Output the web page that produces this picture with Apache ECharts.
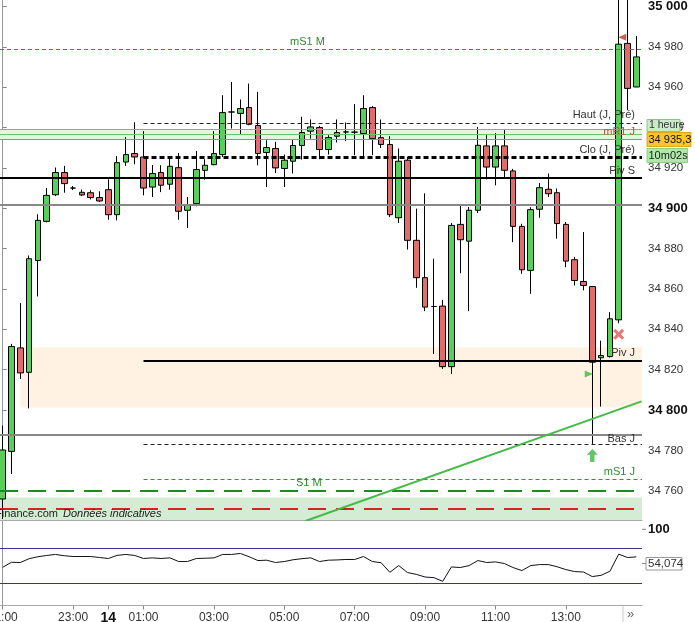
<!DOCTYPE html>
<html>
<head>
<meta charset="utf-8">
<script src="https://cdn.jsdelivr.net/npm/echarts@6/dist/echarts.min.js"></script>
<style>
html, body { margin: 0; padding: 0; background: #fff; }
#main { width: 695px; height: 622px; }
</style>
</head>
<body>
<div id="main"></div>
<script>
// bougies 15 min, du 13 (21:00) au 14 (15:00)
var opens  = [34755.9,34779.5,34830.8,34818.7,34874.1,34893.5,34906.7,34917.7,34910,34907.9,34907.7,34905.3,34909.2,34896.8,34922.9,34927.1,34925.4,34910.5,34917.7,34911.9,34920.1,34899,34902.3,34918.8,34921.6,34926.6,34947.7,34947,34949.9,34941,34927.6,34929.6,34919.7,34923.3,34931.1,34938.2,34940,34929.1,34935.7,34937.8,34937.7,34937,34949.9,34935,34931.6,34895.3,34923.8,34884.1,34865.6,34851.3,34851.5,34821.5,34892,34883.7,34899,34930.9,34920.4,34930.9,34918.5,34891,34869.2,34899.5,34909.4,34907.7,34892,34874.5,34863.7,34861.2,34825.9,34826.5,34844.7,34981.7,34960.1];
var closes = [34780.2,34831.5,34818.4,34875,34894,34906.4,34917.7,34912.2,34910,34906.6,34905.3,34903.6,34896.8,34922.6,34926.6,34925.4,34910,34917.2,34911.4,34920.8,34898.5,34901.8,34919.2,34921.3,34927.1,34947.4,34947.7,34949.4,34941.6,34927.1,34930.1,34920,34923.8,34931.1,34937.5,34940.3,34929.1,34935,34937.5,34937.8,34937.7,34949.4,34934.5,34931.6,34896.8,34923.3,34884.1,34865.6,34851,34851.3,34821.5,34891.5,34884.4,34899,34931.2,34920.4,34930.9,34918.8,34891,34869.5,34899.3,34910.2,34907.2,34892.4,34873.8,34864.2,34861.7,34823.7,34827,34845.2,34981.3,34959.4,34975];
var lows   = [34746,34768.3,34815.4,34800.8,34856.3,34893,34906,34907.7,34909,34906,34904.4,34903.1,34894.3,34894,34921,34921.8,34906.4,34905.6,34908,34909.2,34894.3,34890.2,34901,34914.2,34921.3,34925.4,34939.5,34936.7,34941.1,34921.3,34910.5,34917.5,34910.5,34917.2,34924.1,34934.5,34924.3,34926.6,34932.6,34933.3,34926.3,34924.6,34926.3,34929.9,34895.6,34892.7,34879.5,34860.6,34849,34827.8,34820.4,34817.9,34867.8,34849,34897.6,34914.3,34911.4,34915.5,34883.2,34867.5,34857.6,34895.3,34905.6,34884.9,34870.8,34861.7,34859.3,34783.2,34801.7,34826,34843,34948.6,34960];
var highs  = [34792.3,34832.8,34853,34876.6,34897,34910,34920.2,34921,34911,34909.2,34908.9,34908.4,34914.3,34925.8,34935.3,34942.6,34938.2,34921.4,34921.3,34925.9,34927.4,34905.6,34928.4,34924.3,34938.2,34956,34962.6,34953.9,34961.8,34957.7,34933.7,34932.9,34926.6,34934.2,34945.3,34944,34940.8,34936.2,34944,34942.5,34951.6,34956,34950.6,34944,34935.7,34929.6,34925.4,34899.8,34907.4,34875,34854.6,34892.7,34901.4,34900.6,34940.3,34936.2,34937.3,34938.7,34919.5,34892.3,34900.5,34912.5,34917.2,34909.8,34893.2,34875.8,34888.2,34861.5,34834.4,34848.5,35010,35010,34985.3];

// oscillateur (panneau du bas)
var osc = [48.3,53.9,53.6,57.9,60.1,61.5,62.6,61.2,60.3,60.3,60.3,59.2,58.1,61.6,62.6,61.5,58.1,58.8,58.1,58.8,54.7,54.7,58.1,58.4,58.8,62.6,62.6,63.7,60.1,55.8,56.2,53.6,54.7,56.7,57.9,58.8,54.7,56.2,56.5,57,57,60.3,54.7,53.4,42.7,50.2,42.4,40.4,37.4,36.7,32.6,48.7,48,50.2,55.8,53.6,54.3,52.5,48,44.6,50.2,51.3,51.3,48.9,45.7,43.5,43,37.9,39.3,43.8,62.9,59.2,59.9];
var oscLevels = [70, 30];

// axe des temps
var tickIdx = [0, 8, 12, 16, 24, 32, 40, 48, 56, 64];
var tickTxt = ['21:00', '23:00', '14', '01:00', '03:00', '05:00', '07:00', '09:00', '11:00', '13:00'];
var priceTicks = [34760, 34780, 34800, 34820, 34840, 34860, 34880, 34900, 34920, 34940, 34960, 34980, 35000];

// niveaux horizontaux
var levelNames  = ['mS1 M', 'Haut (J, Pré)', '', '', 'mR1 J', 'Clo (J, Pré)', 'Ouv J', 'Piv S', '', 'Piv J', 'Bas J', '', 'mS1 J', 'S1 M', ''];
var levelPrices = [34978.9, 34942.3, 34939, 34936.5, 34934, 34925.4, 34925.4, 34915, 34901.9, 34824.5, 34787.8, 34783.2, 34765.8, 34760, 34751.2];
var levelStart  = [null, 16, null, null, null, 16, 16, null, null, 16, null, 16, 16, null, null];
var levelKind   = ['gDashThin', 'kDashThin', 'gSolid', 'gSolid', 'rSolid', 'kDashThick', 'none', 'kSolid', 'gray', 'kSolid', 'gray', 'kDashThin', 'gDashThin', 'gDashThick', 'rDashThick'];

// zones
var bandLow   = [34801.3, 34934, 34740];
var bandHigh  = [34831.1, 34939, 34756.7];
var bandStart = [2, null, null];
var bandKind  = ['beige', 'vert', 'vert2'];

// oblique
var trendX = [34.4, 72.6];
var trendY = [34745, 34804.3];

// signaux
var sigX    = [70.4, 70, 66.6, 67];
var sigY    = [34984.8, 34837.5, 34817.9, 34777.5];
var sigKind = ['triLeft', 'cross', 'triRight', 'arrowUp'];

var X_MIN = -0.31, X_MAX = 72.65;
var FONT = '"Liberation Sans", Arial, sans-serif';

var lineStyles = {
    gDashThin:  { color: '#3a8f3a', width: 1, type: [4, 3] },
    kDashThin:  { color: '#222', width: 1, type: [4, 3] },
    gSolid:     { color: '#6cc26c', width: 1, type: 'solid' },
    rSolid:     { color: '#c97a68', width: 1, type: 'solid' },
    kDashThick: { color: '#000', width: 3, type: [5, 3] },
    kSolid:     { color: '#000', width: 2, type: 'solid' },
    gray:       { color: '#888', width: 2, type: 'solid' },
    gDashThick: { color: '#1f8a1f', width: 2, type: [18, 10] },
    rDashThick: { color: '#d52222', width: 2, type: [18, 10] },
    none:       { color: '#000', width: 1, opacity: 0 }
};
var bandColors = { beige: '#fff2e2', vert: '#e6f4e0', vert2: '#d4ebd4' };
var sigStyles = {
    triLeft:  { symbol: 'triangle', symbolSize: [7, 8], symbolRotate: 90, color: '#c0392b' },
    triRight: { symbol: 'triangle', symbolSize: [7, 8], symbolRotate: -90, color: '#3cb83c' },
    cross:    { symbol: 'path://M2,0 L5,3 L8,0 L10,2 L7,5 L10,8 L8,10 L5,7 L2,10 L0,8 L3,5 L0,2 Z', symbolSize: 11, symbolRotate: 0, color: '#e05555' },
    arrowUp:  { symbol: 'path://M5,0 L10,5 L7,5 L7,11 L3,11 L3,5 L0,5 Z', symbolSize: [11, 13], symbolRotate: 0, color: '#3cb83c' }
};

function fmtPrice(v) {
    var s = String(Math.round(v));
    return s.slice(0, 2) + ' ' + s.slice(2);
}

var candles = opens.map(function (o, i) {
    return [i, o, closes[i], lows[i], highs[i]];
});

var levelLines = levelPrices.map(function (p, i) {
    var kind = levelKind[i];
    var name = levelNames[i];
    var pos = 'insideEndTop';
    var dist = [7, 2];
    if (name === 'mS1 M') { pos = 'insideStartTop'; dist = [290, 2]; }
    if (name === 'S1 M') { pos = 'insideStartTop'; dist = [296, 2]; }
    if (name === 'Bas J') { pos = 'insideEndBottom'; dist = [7, -1]; }
    var col = kind.charAt(0) === 'g' && kind !== 'gray' ? '#2e8b2e' : (kind.charAt(0) === 'r' ? '#c0504d' : '#333');
    return [{
        coord: [levelStart[i] === null ? X_MIN : levelStart[i], p],
        lineStyle: lineStyles[kind],
        label: {
            show: name !== '',
            formatter: name,
            position: pos,
            distance: dist,
            color: col,
            fontSize: 11,
            fontFamily: FONT
        }
    }, {
        coord: [X_MAX, p]
    }];
});

var bandAreas = bandLow.map(function (lo, i) {
    return [{
        coord: [bandStart[i] === null ? X_MIN : bandStart[i], bandHigh[i]],
        itemStyle: { color: bandColors[bandKind[i]] }
    }, {
        coord: [X_MAX, lo]
    }];
});

var sigData = sigX.map(function (x, i) {
    var st = sigStyles[sigKind[i]];
    return {
        value: [x, sigY[i]],
        symbol: st.symbol,
        symbolSize: st.symbolSize,
        symbolRotate: st.symbolRotate,
        itemStyle: { color: st.color }
    };
});

var chart = echarts.init(document.getElementById('main'));

chart.setOption({
    animation: false,
    backgroundColor: '#fff',
    textStyle: { fontFamily: FONT },
    grid: [
        { left: 0, right: 53, top: 0, height: 520, outerBoundsMode: 'none' },
        { left: 0, right: 53, top: 520, height: 85.5, outerBoundsMode: 'none' }
    ],
    xAxis: [{
        type: 'value', gridIndex: 0, min: X_MIN, max: X_MAX,
        axisLine: { show: true, onZero: false, lineStyle: { color: '#aaa', width: 1 } },
        axisTick: { show: false }, axisLabel: { show: false }, splitLine: { show: false }
    }, {
        type: 'value', gridIndex: 1, min: X_MIN, max: X_MAX,
        axisLine: { show: true, onZero: false, lineStyle: { color: '#aaa', width: 1 } },
        axisTick: { show: true, customValues: tickIdx, length: 4, lineStyle: { color: '#888' } },
        axisLabel: {
            customValues: tickIdx,
            margin: 6,
            color: '#333',
            fontSize: 12,
            fontFamily: FONT,
            formatter: function (v) {
                var t = tickTxt[tickIdx.indexOf(Math.round(v))];
                return t === '14' ? '{b|14}' : t;
            },
            rich: { b: { fontWeight: 'bold', fontSize: 14, color: '#111', fontFamily: FONT } }
        },
        splitLine: { show: false }
    }],
    yAxis: [{
        type: 'value', gridIndex: 0, position: 'right', min: 34745.5, max: 35003.2,
        axisLine: { show: true, lineStyle: { color: '#999', width: 1 } },
        axisTick: { show: true, customValues: priceTicks, length: 4, lineStyle: { color: '#888' } },
        axisLabel: {
            customValues: priceTicks,
            margin: 6,
            color: '#333',
            fontSize: 11.5,
            fontFamily: FONT,
            formatter: function (v) {
                var t = fmtPrice(v);
                return v % 100 === 0 ? '{b|' + t + '}' : t;
            },
            rich: { b: { fontWeight: 'bold', fontSize: 13, color: '#111', fontFamily: FONT } }
        },
        splitLine: { show: false }
    }, {
        type: 'value', gridIndex: 1, position: 'right', min: 5.6, max: 101.1,
        axisLine: { show: true, lineStyle: { color: '#999', width: 1 } },
        axisTick: { show: false }, axisLabel: { show: false }, splitLine: { show: false }
    }],
    series: [{
        // zones et niveaux
        type: 'line', xAxisIndex: 0, yAxisIndex: 0, data: [], silent: true,
        markArea: { silent: true, z: 1, data: bandAreas },
        markLine: { silent: true, symbol: ['none', 'none'], z: 5, data: levelLines }
    }, {
        type: 'candlestick', xAxisIndex: 0, yAxisIndex: 0, z: 3,
        barWidth: 6, clip: true,
        dimensions: ['t', 'open', 'close', 'low', 'high'],
        encode: { x: 0, y: [1, 2, 3, 4] },
        itemStyle: {
            color: '#58cf58', color0: '#e06c6c',
            borderColor: '#000', borderColor0: '#000', borderColorDoji: '#000',
            borderWidth: 1
        },
        data: candles
    }, {
        type: 'line', xAxisIndex: 0, yAxisIndex: 0, z: 6, clip: true,
        showSymbol: false, silent: true,
        lineStyle: { color: '#44bb44', width: 2 },
        data: trendX.map(function (x, i) { return [x, trendY[i]]; })
    }, {
        type: 'scatter', xAxisIndex: 0, yAxisIndex: 0, z: 10, silent: true,
        data: sigData
    }, {
        type: 'line', xAxisIndex: 1, yAxisIndex: 1, z: 4, showSymbol: false, silent: true,
        lineStyle: { color: '#111', width: 1 },
        data: osc.map(function (v, i) { return [i, v]; }),
        markLine: {
            silent: true, symbol: ['none', 'none'], z: 3,
            label: { show: false },
            lineStyle: { color: '#3b3287', width: 1.2, type: 'solid' },
            data: oscLevels.map(function (v) { return { yAxis: v }; })
        }
    }],
    graphic: [
        { type: 'rect', z: 100, shape: { x: 647, y: 119.5, width: 33, height: 12 }, style: { fill: '#c8ecc6', stroke: '#8fc08f', lineWidth: 1 } },
        { type: 'text', z: 101, x: 649, y: 125.5, style: { text: '1 heure', fill: '#333', font: '10.5px ' + FONT, textVerticalAlign: 'middle' } },
        { type: 'rect', z: 100, shape: { x: 647, y: 132.5, width: 44, height: 14 }, style: { fill: '#f8c52e', stroke: '#e0a818', lineWidth: 1 } },
        { type: 'text', z: 101, x: 648.5, y: 139.8, style: { text: '34 935,3', fill: '#111', font: '11px ' + FONT, textVerticalAlign: 'middle' } },
        { type: 'rect', z: 100, shape: { x: 647, y: 148.5, width: 40.5, height: 14 }, style: { fill: '#b0e8aa', stroke: '#90cc8a', lineWidth: 1 } },
        { type: 'text', z: 101, x: 648.5, y: 155.8, style: { text: '10m02s', fill: '#222', font: '11px ' + FONT, textVerticalAlign: 'middle' } },
        { type: 'line', z: 100, shape: { x1: 642, y1: 529.3, x2: 646, y2: 529.3 }, style: { stroke: '#888', lineWidth: 1 } },
        { type: 'text', z: 101, x: 648, y: 529.5, style: { text: '100', fill: '#111', font: 'bold 13px ' + FONT, textVerticalAlign: 'middle' } },
        { type: 'line', z: 100, shape: { x1: 642, y1: 563.5, x2: 646, y2: 563.5 }, style: { stroke: '#888', lineWidth: 1 } },
        { type: 'rect', z: 100, shape: { x: 646, y: 557.5, width: 36, height: 12.5 }, style: { fill: '#fff', stroke: '#999', lineWidth: 1 } },
        { type: 'text', z: 101, x: 648, y: 564, style: { text: '54,074', fill: '#333', font: '11.5px ' + FONT, textVerticalAlign: 'middle' } },
        { type: 'text', z: 101, x: -5, y: 514, style: { text: 'Finance.com', fill: '#222', font: '11px ' + FONT, textVerticalAlign: 'middle' } },
        { type: 'text', z: 101, x: 63, y: 514, style: { text: 'Données indicatives', fill: '#222', font: 'italic 11px ' + FONT, textVerticalAlign: 'middle' } },
        { type: 'line', z: 100, shape: { x1: 623, y1: 606, x2: 623, y2: 622 }, style: { stroke: '#ccc', lineWidth: 1 } },
        { type: 'text', z: 101, x: 627, y: 614, style: { text: '»', fill: '#666', font: '13px ' + FONT, textVerticalAlign: 'middle' } }
    ]
});
</script>
</body>
</html>
